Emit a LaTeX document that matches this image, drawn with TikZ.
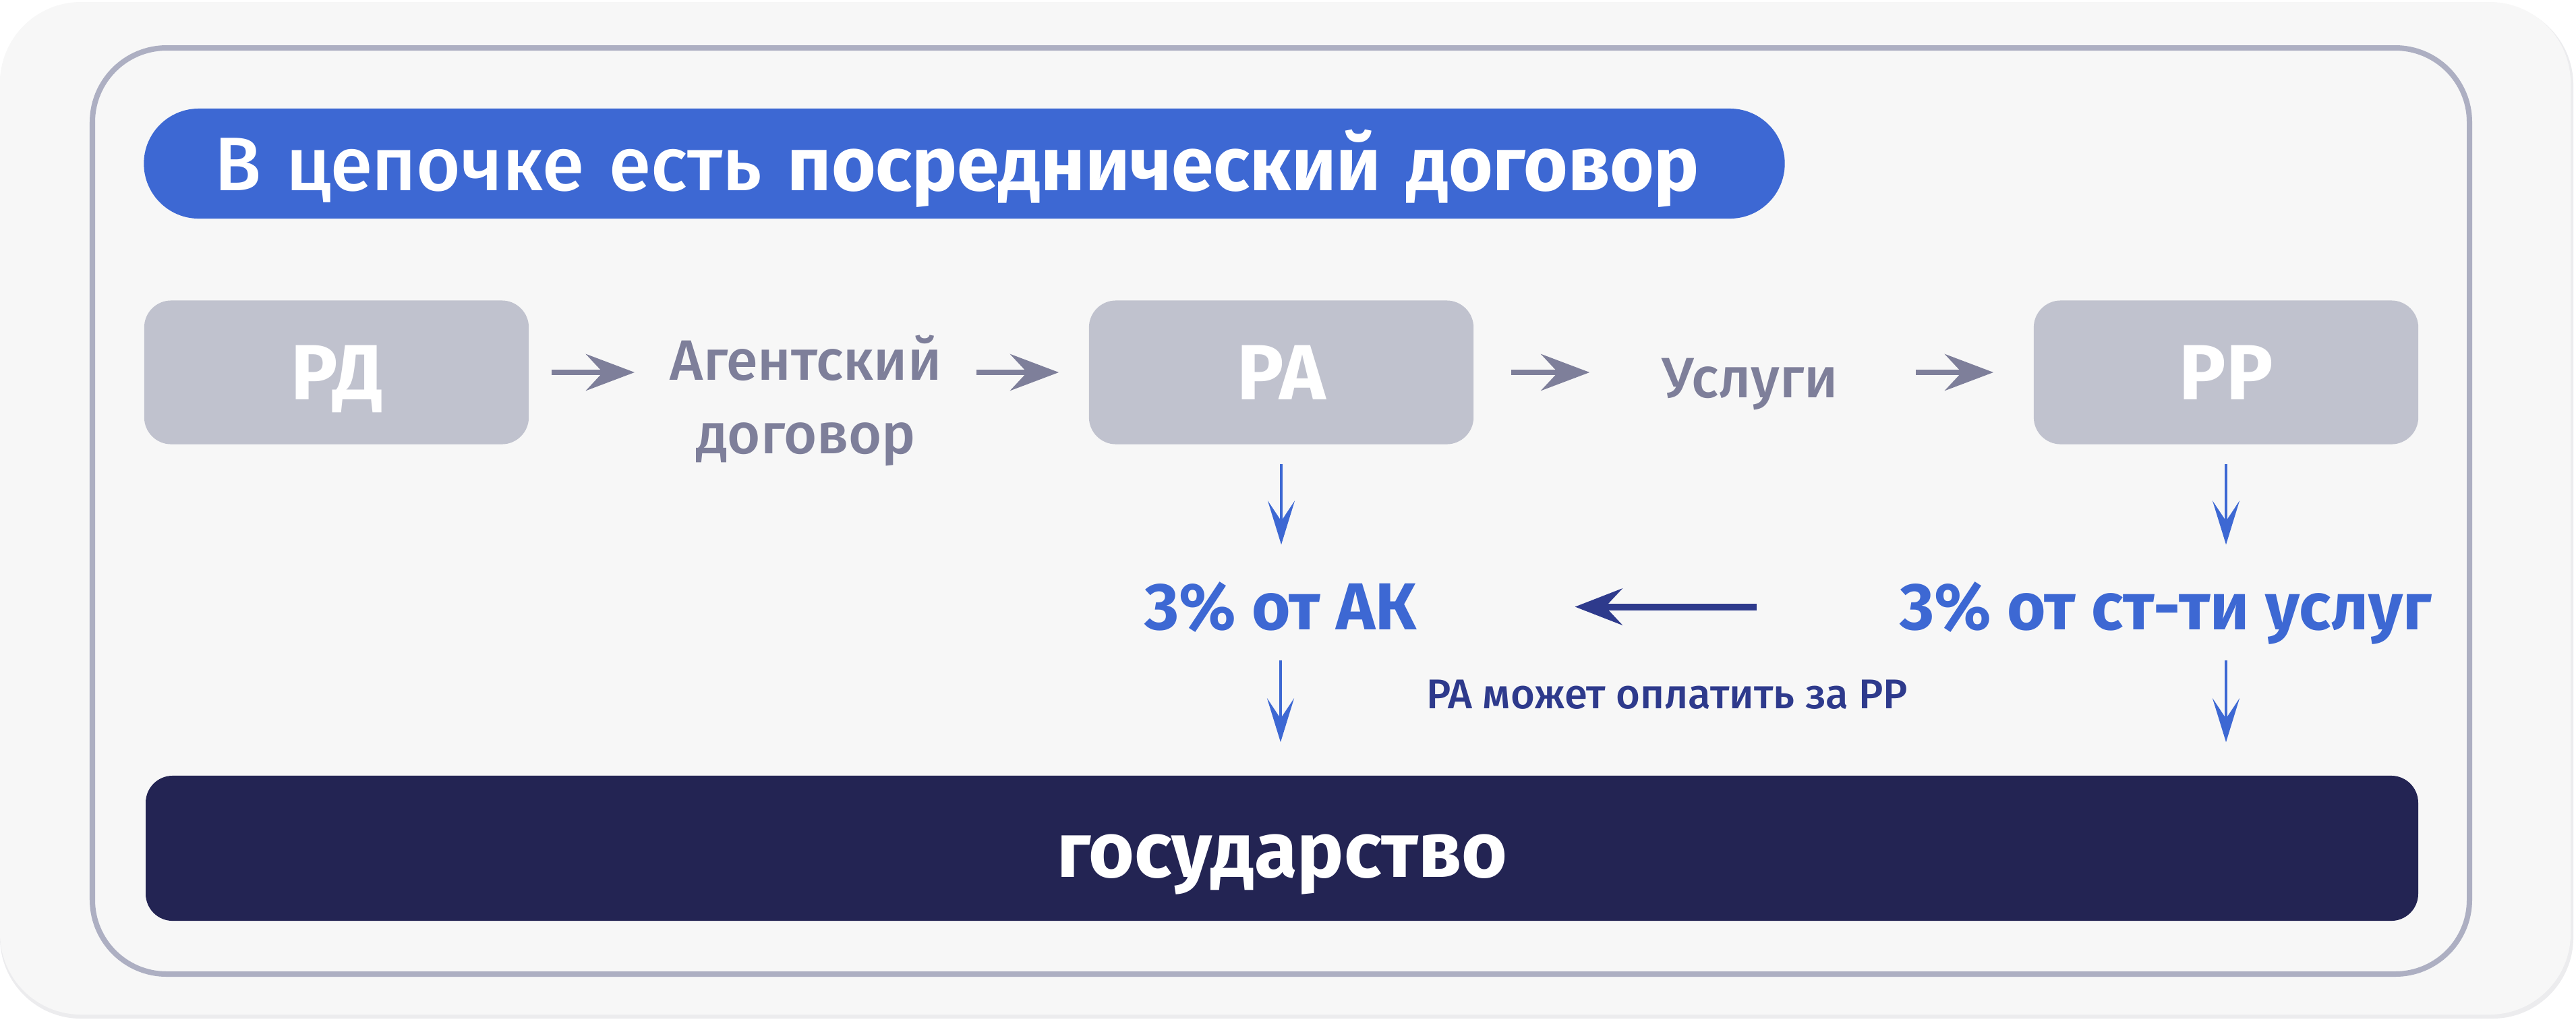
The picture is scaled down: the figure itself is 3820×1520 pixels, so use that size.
\documentclass[tikz,border=0pt]{standalone}
\usepackage{fontspec}
\setmainfont{Fira Sans}
\newfontfamily\mediumfont{Fira Sans Medium}
\usetikzlibrary{arrows.meta}
\definecolor{cardbg}{HTML}{F7F7F7}
\definecolor{cardshade}{HTML}{ECECEE}
\definecolor{framegray}{HTML}{ADAFC2}
\definecolor{pillblue}{HTML}{3D68D3}
\definecolor{boxgray}{HTML}{C0C2CE}
\definecolor{textgray}{HTML}{7E7F9A}
\definecolor{paynavy}{HTML}{2E3A8C}
\definecolor{govnavy}{HTML}{232453}

\begin{document}
\begin{tikzpicture}[x=0.01cm,y=-0.01cm,
    party/.style={fill=boxgray,rounded corners=0.4cm,minimum width=5.7cm,
      minimum height=2.13cm,inner sep=0pt,text=white,text height=0.8cm,
      text depth=0pt,font=\fontsize{33}{39}\selectfont\bfseries},
    flowtext/.style={text=textgray,inner sep=0pt,align=center,
      font=\fontsize{24}{31}\selectfont\mediumfont},
    share/.style={text=pillblue,inner sep=0pt,anchor=base,
      font=\fontsize{28}{33}\selectfont\bfseries},
    paynote/.style={text=paynavy,inner sep=0pt,anchor=base,
      font=\fontsize{17.5}{21}\selectfont\mediumfont},
    grayarrow/.style={-{Stealth[length=0.72cm,width=0.54cm,inset=0.25cm]},
      line width=0.085cm,textgray},
    bluearrow/.style={-{Stealth[length=0.65cm,width=0.4cm,inset=0.3cm]},
      line width=0.045cm,pillblue},
    navyarrow/.style={-{Stealth[length=0.7cm,width=0.54cm,inset=0.25cm]},
      line width=0.1cm,paynavy}]
  \useasboundingbox (0,0) rectangle (3820,1520);
  \fill[white] (0,0) rectangle (3820,1520);
  \fill[cardshade,rounded corners=1.2cm] (0,6) rectangle (3816,1510);
  \fill[cardbg,rounded corners=1.2cm] (0,3) rectangle (3812,1504);
  \draw[framegray,line width=0.08cm,rounded corners=1.1cm] (137,71) rectangle (3662,1444);

  \node[fill=pillblue,rounded corners=0.815cm,minimum width=24.32cm,minimum height=1.63cm,
    inner xsep=1.05cm,inner ysep=0pt,text width=22.22cm,align=left,text=white,
    text height=0.79cm,text depth=0pt,font=\fontsize{32}{38}\selectfont]
    (title) at (1430,242.5) {{\mediumfont В цепочке есть} \textbf{посреднический договор}};

  \node[party] (rd) at (499,552) {РД};
  \node[party] (ra) at (1900,552) {РА};
  \node[party] (rr) at (3301,552) {РР};
  \node[flowtext] (agent) at (1195,594) {Агентский\\договор};
  \node[flowtext,anchor=base] (usl) at (2595,589) {Услуги};

  \draw[grayarrow,shorten <=0.33cm,shorten >=0.52cm] (rd.east) -- (rd.east -| agent.west);
  \draw[grayarrow,shorten <=0.51cm,shorten >=0.44cm] (agent.east |- ra.west) -- (ra.west);
  \draw[grayarrow,shorten <=0.55cm,shorten >=1.06cm] (ra.east) -- (ra.east -| usl.west);
  \draw[grayarrow,shorten <=1.14cm,shorten >=0.59cm] (usl.east |- rr.west) -- (rr.west);

  \node[share] (ak) at (1899,933) {3\% от АК};
  \node[share] (svc) at (3212,933) {3\% от ст-ти услуг};
  \node[paynote] (pay) at (2472,1050) {РА может оплатить за РР};

  \node[fill=govnavy,rounded corners=0.4cm,minimum width=33.68cm,minimum height=2.15cm,
    inner sep=0pt,text=white,text height=0.85cm,text depth=0pt,
    font=\fontsize{33}{39}\selectfont\bfseries] (gov) at (1901,1257.5) {государство};

  \draw[bluearrow,shorten <=0.29cm,shorten >=0.54cm] (ra.south) -- (ra.south |- ak.north);
  \draw[bluearrow,shorten <=0.29cm,shorten >=0.54cm] (rr.south) -- (rr.south |- ak.north);
  \draw[bluearrow,shorten <=0.41cm,shorten >=0.49cm] (ak.south) -- (ak.south |- gov.north);
  \draw[bluearrow,shorten <=0.41cm,shorten >=0.49cm] (rr.south |- ak.south) -- (rr.south |- gov.north);
  \draw[navyarrow,shorten <=2.12cm,shorten >=2.34cm] (svc.west |- ak.east) -- (ak.east);
\end{tikzpicture}
\end{document}
